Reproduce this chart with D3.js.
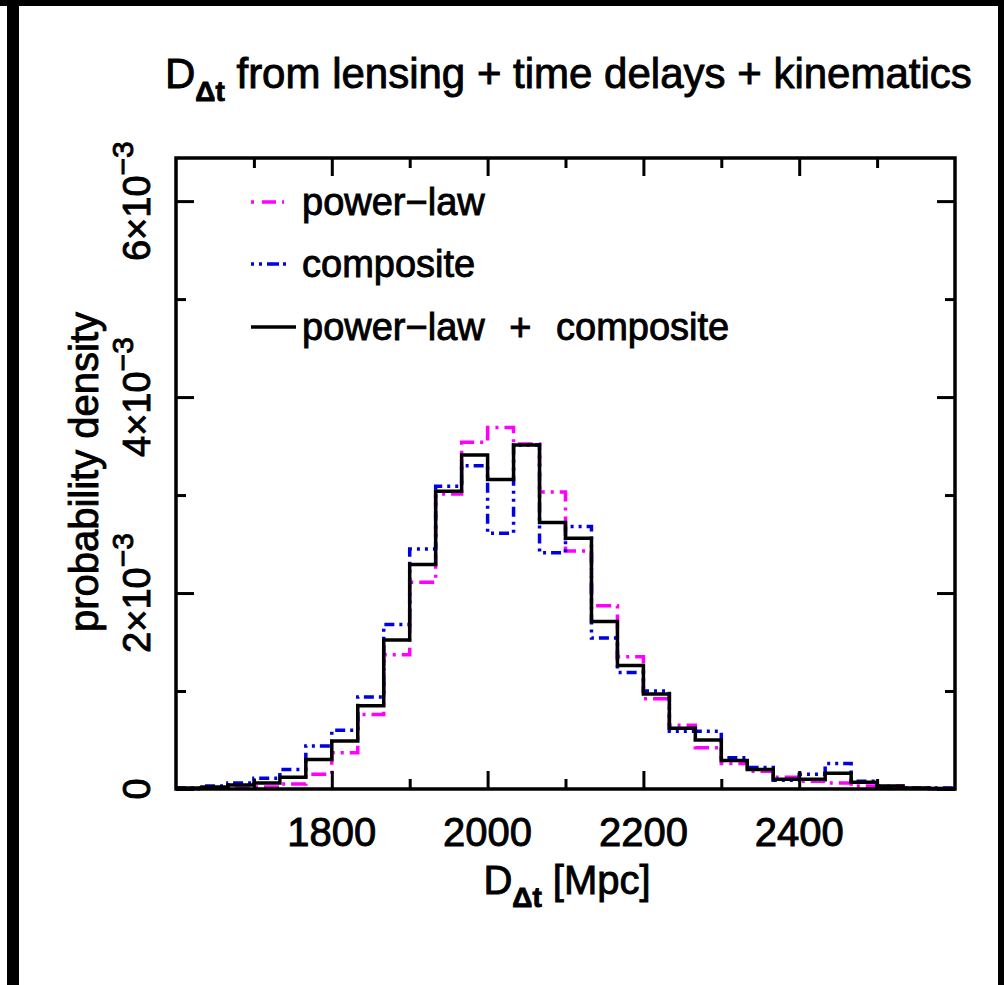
<!DOCTYPE html>
<html>
<head>
<meta charset="utf-8">
<script src="https://cdn.jsdelivr.net/npm/d3@7"></script>
<style>
  html, body { margin: 0; padding: 0; background: #fff; }
  svg text { font-family: "Liberation Sans", Arial, sans-serif; fill: #000; stroke: #000; stroke-width: 0.9px; }
</style>
</head>
<body>
<svg id="chart" width="1004" height="985"></svg>
<script>
// histogram bins: 30 bins between 1600 and 2600 Mpc
const xMin = 1600;
const xMax = 2600;
const nBins = 30;

// probability density per bin, in units of 1e-3
const powerLaw = [0.0, 0.01, 0.01, 0.02, 0.05, 0.15, 0.37, 0.76, 1.37, 2.11,
  3.01, 3.54, 3.69, 3.52, 3.03, 2.43, 1.87, 1.35, 0.92, 0.65,
  0.42, 0.26, 0.18, 0.12, 0.08, 0.06, 0.03, 0.03, 0.01, 0.005];
const composite = [0.01, 0.03, 0.06, 0.11, 0.20, 0.44, 0.60, 0.94, 1.68, 2.45,
  3.09, 3.30, 2.61, 3.51, 2.41, 2.68, 1.54, 1.19, 1.00, 0.59,
  0.59, 0.32, 0.22, 0.09, 0.15, 0.26, 0.08, 0.02, 0.01, 0.01];
const combined = [0.01, 0.02, 0.04, 0.06, 0.12, 0.30, 0.49, 0.85, 1.52, 2.29,
  3.04, 3.41, 3.16, 3.51, 2.72, 2.56, 1.71, 1.26, 0.97, 0.62,
  0.50, 0.29, 0.20, 0.10, 0.10, 0.16, 0.07, 0.03, 0.01, 0.005];

const xMajor = [1800, 2000, 2200, 2400];
const xMinor = [1700, 1900, 2100, 2300, 2500];
const yMajor = [0, 2, 4, 6];
const yMinor = [1, 3, 5];

const seriesNames = ["power\u2212law", "composite", "power\u2212law + composite"];

const svg = d3.select("#chart");

// black scan border
svg.append("rect").attr("x", 0).attr("y", 0).attr("width", 1004).attr("height", 6).attr("fill", "#000");
svg.append("rect").attr("x", 7).attr("y", 0).attr("width", 12).attr("height", 985).attr("fill", "#000");
svg.append("rect").attr("x", 998).attr("y", 0).attr("width", 6).attr("height", 985).attr("fill", "#000");

const pLeft = 176, pRight = 955, pTop = 158, pBottom = 789;

const x = d3.scaleLinear().domain([xMin, xMax]).range([pLeft, pRight]);
const y = d3.scaleLinear().domain([0, 6.44]).range([pBottom, pTop]);

const edges = d3.range(nBins + 1).map(i => xMin + (xMax - xMin) * i / nBins);

// histograms
const step = d3.line()
  .x(d => x(d[0]))
  .y(d => y(d[1]))
  .curve(d3.curveStepAfter);

function histPoints(vals) {
  const pts = vals.map((v, i) => [edges[i], v]);
  pts.push([edges[nBins], vals[nBins - 1]]);
  return pts;
}

const styles = [
  { data: powerLaw, color: "#ff00ff", dash: "15,6,3,6" },
  { data: composite, color: "#0000e0", dash: "10,5,3,5,3,5" },
  { data: combined, color: "#000", dash: null }
];

styles.forEach(s => {
  svg.append("path")
    .attr("d", step(histPoints(s.data)))
    .attr("fill", "none")
    .attr("stroke", s.color)
    .attr("stroke-width", 3.5)
    .attr("stroke-dasharray", s.dash);
});

// axes with inward ticks on all four sides
function addAxis(axis, transform) {
  const g = svg.append("g").attr("transform", transform).call(axis);
  g.select(".domain").remove();
  g.selectAll(".tick line").attr("stroke", "#000").attr("stroke-width", 3);
  return g;
}

addAxis(d3.axisBottom(x).tickValues(xMajor).tickSize(-18).tickFormat(""), `translate(0,${pBottom})`);
addAxis(d3.axisBottom(x).tickValues(xMinor).tickSize(-10).tickFormat(""), `translate(0,${pBottom})`);
addAxis(d3.axisTop(x).tickValues(xMajor).tickSize(-18).tickFormat(""), `translate(0,${pTop})`);
addAxis(d3.axisTop(x).tickValues(xMinor).tickSize(-10).tickFormat(""), `translate(0,${pTop})`);
addAxis(d3.axisLeft(y).tickValues(yMajor).tickSize(-18).tickFormat(""), `translate(${pLeft},0)`);
addAxis(d3.axisLeft(y).tickValues(yMinor).tickSize(-10).tickFormat(""), `translate(${pLeft},0)`);
addAxis(d3.axisRight(y).tickValues(yMajor).tickSize(-18).tickFormat(""), `translate(${pRight},0)`);
addAxis(d3.axisRight(y).tickValues(yMinor).tickSize(-10).tickFormat(""), `translate(${pRight},0)`);

// frame
svg.append("rect")
  .attr("x", pLeft).attr("y", pTop)
  .attr("width", pRight - pLeft).attr("height", pBottom - pTop)
  .attr("fill", "none").attr("stroke", "#000").attr("stroke-width", 3.5);

// x tick labels
svg.selectAll(".xlab")
  .data(xMajor)
  .enter()
  .append("text")
  .attr("class", "xlab")
  .attr("x", d => x(d))
  .attr("y", 846)
  .attr("text-anchor", "middle")
  .style("font-size", "40px")
  .text(d => d);

// y tick labels, rotated
yMajor.forEach(v => {
  const t = svg.append("text")
    .attr("transform", `translate(150,${y(v)}) rotate(-90)`)
    .attr("text-anchor", "middle")
    .style("font-size", "38px");
  if (v === 0) {
    t.text("0");
  } else {
    t.append("tspan").text(v + "\u00d710");
    t.append("tspan").attr("dy", -17).style("font-size", "30px").text("\u22123");
  }
});

// title
const title = svg.append("text")
  .attr("x", 165).attr("y", 88)
  .style("font-size", "42px");
title.append("tspan").text("D");
title.append("tspan").attr("dy", 13).style("font-size", "28px").style("font-weight", "bold").text("\u0394t");
title.append("tspan").attr("dy", -13).text(" from lensing + time delays + kinematics");

// x axis label
const xl = svg.append("text")
  .attr("x", 567).attr("y", 894)
  .attr("text-anchor", "middle")
  .style("font-size", "40px");
xl.append("tspan").text("D");
xl.append("tspan").attr("dy", 13).style("font-size", "28px").style("font-weight", "bold").text("\u0394t");
xl.append("tspan").attr("dy", -13).text(" [Mpc]");

// y axis label
svg.append("text")
  .attr("transform", "translate(98,472) rotate(-90)")
  .attr("text-anchor", "middle")
  .style("font-size", "40px")
  .text("probability density");

// legend
const legendRows = [
  { name: seriesNames[0], color: "#ff00ff", dash: "3,8,14,6", y: 202, x2: 284 },
  { name: seriesNames[1], color: "#0000e0", dash: "3,5,3,5,12,4", y: 264, x2: 286 },
  { name: seriesNames[2], color: "#000", dash: null, y: 327, x2: 296 }
];
const legend = svg.append("g");
legendRows.forEach(r => {
  legend.append("line")
    .attr("x1", 251).attr("x2", r.x2)
    .attr("y1", r.y).attr("y2", r.y)
    .attr("stroke", r.color)
    .attr("stroke-width", 3.5)
    .attr("stroke-dasharray", r.dash);
  legend.append("text")
    .attr("x", 302).attr("y", r.y + 13)
    .style("font-size", "38px")
    .style("word-spacing", "14px")
    .text(r.name);
});
</script>
</body>
</html>
